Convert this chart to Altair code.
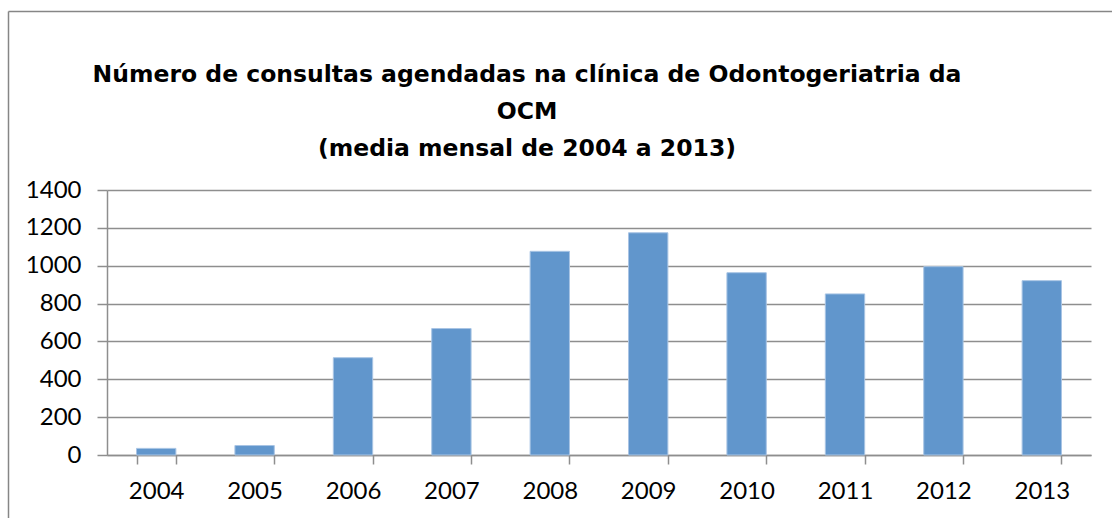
import altair as alt
import pandas as pd

years = ["2004", "2005", "2006", "2007", "2008", "2009", "2010", "2011", "2012", "2013"]
consultas = [35, 50, 514, 668, 1076, 1174, 963, 851, 995, 921]
y_ticks = [0, 200, 400, 600, 800, 1000, 1200, 1400]
title_lines = [
    "Número de consultas agendadas na clínica de Odontogeriatria da",
    "OCM",
    "(media mensal de 2004 a 2013)",
]

df = pd.DataFrame({"ano": years, "consultas": consultas})

FONT = "Lato"
GRID = "#8e8e8e"

bars = alt.Chart(df).mark_bar(color="#6196cc", stroke="#a8c4e4", strokeWidth=1).encode(
    x=alt.X(
        "ano:N",
        sort=years,
        title=None,
        scale=alt.Scale(paddingInner=0.6, paddingOuter=0.3),
        axis=alt.Axis(
            labelAngle=0,
            tickBand="extent",
            tickSize=9,
            tickColor=GRID,
            tickWidth=1.5,
            domainColor=GRID,
            domainWidth=1.5,
            labelFont=FONT,
            labelFontSize=24,
            labelColor="#000000",
            labelPadding=15,
            grid=False,
        ),
    ),
    y=alt.Y(
        "consultas:Q",
        title=None,
        scale=alt.Scale(domain=[0, 1400], nice=False),
        axis=alt.Axis(
            values=y_ticks,
            format="d",
            grid=True,
            gridColor=GRID,
            gridWidth=1.5,
            tickSize=10,
            tickColor=GRID,
            tickWidth=1.5,
            domainColor=GRID,
            domainWidth=1.5,
            labelFont=FONT,
            labelFontSize=24,
            labelColor="#000000",
            labelPadding=16,
        ),
    ),
)

frame_df = pd.DataFrame({"k": [0]})
left_border = alt.Chart(frame_df).mark_rule(color="#868686", strokeWidth=1.5).encode(
    x=alt.value(-98.5), y=alt.value(-178.5), y2=alt.value(400)
)
top_border = alt.Chart(frame_df).mark_rule(color="#868686", strokeWidth=1.5).encode(
    x=alt.value(-98.5), x2=alt.value(1020), y=alt.value(-178.5)
)
title_text = alt.Chart(frame_df).mark_text(
    text=title_lines,
    font="DejaVu Sans",
    fontSize=23.5,
    fontWeight="bold",
    color="#000000",
    align="center",
    baseline="alphabetic",
    lineHeight=37,
).encode(x=alt.value(420), y=alt.value(-108.3))

chart = (
    alt.layer(bars, left_border, top_border, title_text)
    .properties(
        width=984,
        height=265,
        autosize=alt.AutoSizeParams(type="none"),
        padding={"left": 107, "top": 190, "right": 21, "bottom": 63},
        background="white",
    )
    .configure_view(stroke=None)
)

chart.save("out.html", embed_options={"renderer": "svg", "actions": False})
